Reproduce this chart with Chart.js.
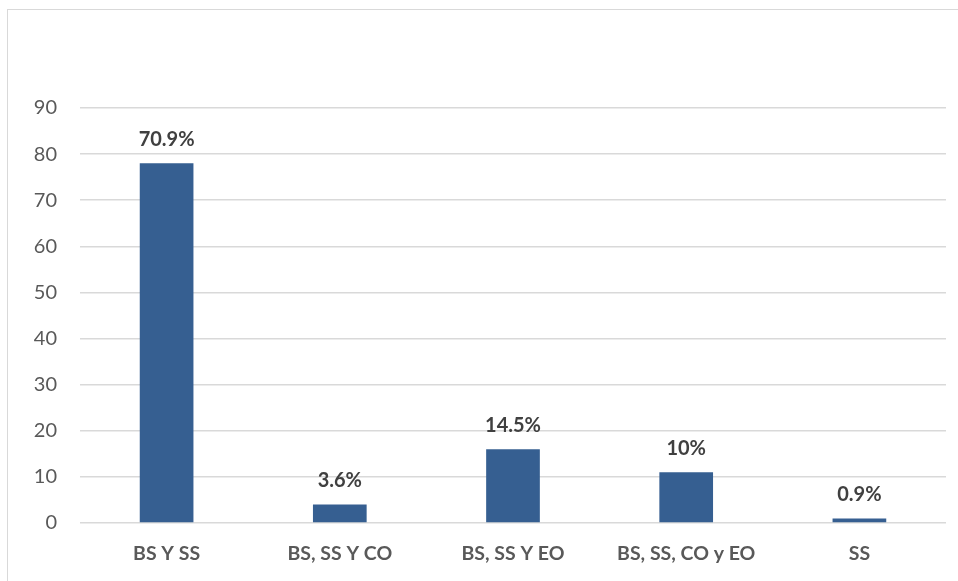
<!DOCTYPE html>
<html>
<head>
<meta charset="utf-8">
<script src="https://cdn.jsdelivr.net/npm/chart.js@4/dist/chart.umd.min.js"></script>
<style>
  html, body { margin: 0; padding: 0; background: #fff; }
  #wrap { position: relative; width: 958px; height: 581px; overflow: hidden; }
  #frame { position: absolute; left: 7px; top: 9px; width: 970px; height: 590px;
           border: 1.5px solid #d9d9d9; box-sizing: border-box; }
  canvas { position: absolute; left: 0; top: 0; }
</style>
</head>
<body>
<div id="wrap">
  <div id="frame"></div>
  <canvas id="chart" width="958" height="581"></canvas>
</div>
<script>
const categories = ['BS Y SS', 'BS, SS Y CO', 'BS, SS Y EO', 'BS, SS, CO y EO', 'SS'];
const counts = [78, 4, 16, 11, 1];
const pctLabels = ['70.9%', '3.6%', '14.5%', '10%', '0.9%'];
const yTicks = [0, 10, 20, 30, 40, 50, 60, 70, 80, 90];

const FONT = 'Lato, "Open Sans", sans-serif';

// draws the percent labels above each bar
const barLabels = {
  id: 'barLabels',
  afterDatasetsDraw(chart) {
    const ctx = chart.ctx;
    const meta = chart.getDatasetMeta(0);
    ctx.save();
    ctx.font = 'bold 20px ' + FONT;
    ctx.fillStyle = '#404040';
    ctx.textAlign = 'center';
    ctx.textBaseline = 'bottom';
    meta.data.forEach((bar, i) => {
      ctx.fillText(pctLabels[i], bar.x, bar.y - 14);
    });
    ctx.restore();
  }
};

new Chart(document.getElementById('chart'), {
  type: 'bar',
  data: {
    labels: categories,
    datasets: [{
      data: counts,
      backgroundColor: '#365f91',
      borderWidth: 0,
      categoryPercentage: 1,
      barPercentage: 0.31
    }]
  },
  options: {
    responsive: false,
    animation: false,
    devicePixelRatio: 1,
    layout: { padding: { left: 0, right: 12, top: 108, bottom: 0 } },
    plugins: { legend: { display: false }, tooltip: { enabled: false } },
    scales: {
      x: {
        grid: { display: false, drawTicks: false },
        border: { display: false },
        ticks: { color: '#595959', font: { family: FONT, size: 19.5, weight: 'bold' }, padding: 19 },
        afterFit(scale) { scale.height = 58; }
      },
      y: {
        min: 0, max: 90,
        afterBuildTicks(scale) { scale.ticks = yTicks.map(v => ({ value: v })); },
        grid: { color: '#d9d9d9', lineWidth: 1.5, drawTicks: false },
        border: { display: false },
        ticks: { color: '#595959', font: { family: FONT, size: 20 }, padding: 23 },
        afterFit(scale) { scale.width = 80; }
      }
    }
  },
  plugins: [barLabels]
});
</script>
</body>
</html>
